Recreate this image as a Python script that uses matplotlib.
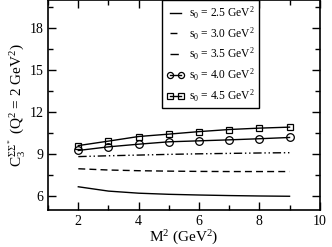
import matplotlib
matplotlib.use("Agg")
import matplotlib.pyplot as plt

plt.rcParams['font.family'] = ['Liberation Serif', 'DejaVu Serif']
plt.rcParams['mathtext.fontset'] = 'custom'
plt.rcParams['mathtext.rm'] = 'Liberation Serif'
plt.rcParams['mathtext.it'] = 'Liberation Serif'

M2 = [2, 3, 4, 5, 6, 7, 8, 9]
s25 = [6.66, 6.35, 6.2, 6.12, 6.07, 6.03, 6.0, 5.98]
s30 = [7.95, 7.86, 7.81, 7.78, 7.76, 7.75, 7.75, 7.75]
s35 = [8.82, 8.88, 8.93, 8.98, 9.02, 9.05, 9.08, 9.1]
s40 = [9.26, 9.52, 9.71, 9.88, 9.95, 10.02, 10.1, 10.19]
s45 = [9.61, 9.93, 10.26, 10.43, 10.61, 10.76, 10.86, 10.93]
labels = [r"s$_0$ = 2.5 GeV$^2$", r"s$_0$ = 3.0 GeV$^2$", r"s$_0$ = 3.5 GeV$^2$",
          r"s$_0$ = 4.0 GeV$^2$", r"s$_0$ = 4.5 GeV$^2$"]

fig = plt.figure(figsize=(3.32, 2.47), dpi=100)
ax = fig.add_axes([0.145, 0.15, 0.818, 0.848])

ax.plot(M2, s25, color='black', lw=1.0, ls='-', label=labels[0])
ax.plot(M2, s30, color='black', lw=1.0, ls=(0, (5, 3)), label=labels[1])
ax.plot(M2, s35, color='black', lw=1.0, ls=(0, (6, 2, 1, 2, 1, 2)), label=labels[2])
ax.plot(M2, s40, color='black', lw=1.0, marker='o', ms=5.5, mfc='none', mew=0.9, label=labels[3])
ax.plot(M2, s45, color='black', lw=1.0, marker='s', ms=5, mfc='none', mew=0.9, label=labels[4])

ax.set_xlim(1, 10)
ax.set_ylim(5, 20)
ax.set_xticks([2, 4, 6, 8, 10])
ax.set_xticks([1, 3, 5, 7, 9], minor=True)
ax.set_yticks([6, 9, 12, 15, 18])
ax.set_yticks([7.5, 10.5, 13.5, 16.5, 19.5], minor=True)
ax.tick_params(which='both', direction='in', top=True, right=True, labelsize=10)
ax.tick_params(which='major', length=6, width=1)
ax.tick_params(which='minor', length=3.5, width=1)
for s in ax.spines.values():
    s.set_linewidth(1.2)

ax.set_xlabel(r"M$^2$ (GeV$^2$)", fontsize=11, labelpad=1)
ax.set_ylabel(r"C$_3^{\Sigma\Sigma^*}$ (Q$^2$ = 2 GeV$^2$)", fontsize=11, labelpad=2)

leg = ax.legend(loc='upper left', bbox_to_anchor=(0.42, 1.0), fontsize=8.3,
                frameon=True, fancybox=False, edgecolor='black', framealpha=1,
                handlelength=1.6, handletextpad=0.35, borderpad=0.35, labelspacing=0.38,
                borderaxespad=0, numpoints=2, markerscale=0.8)
leg.get_frame().set_linewidth(1.0)

fig.savefig("out.png", dpi=100)
